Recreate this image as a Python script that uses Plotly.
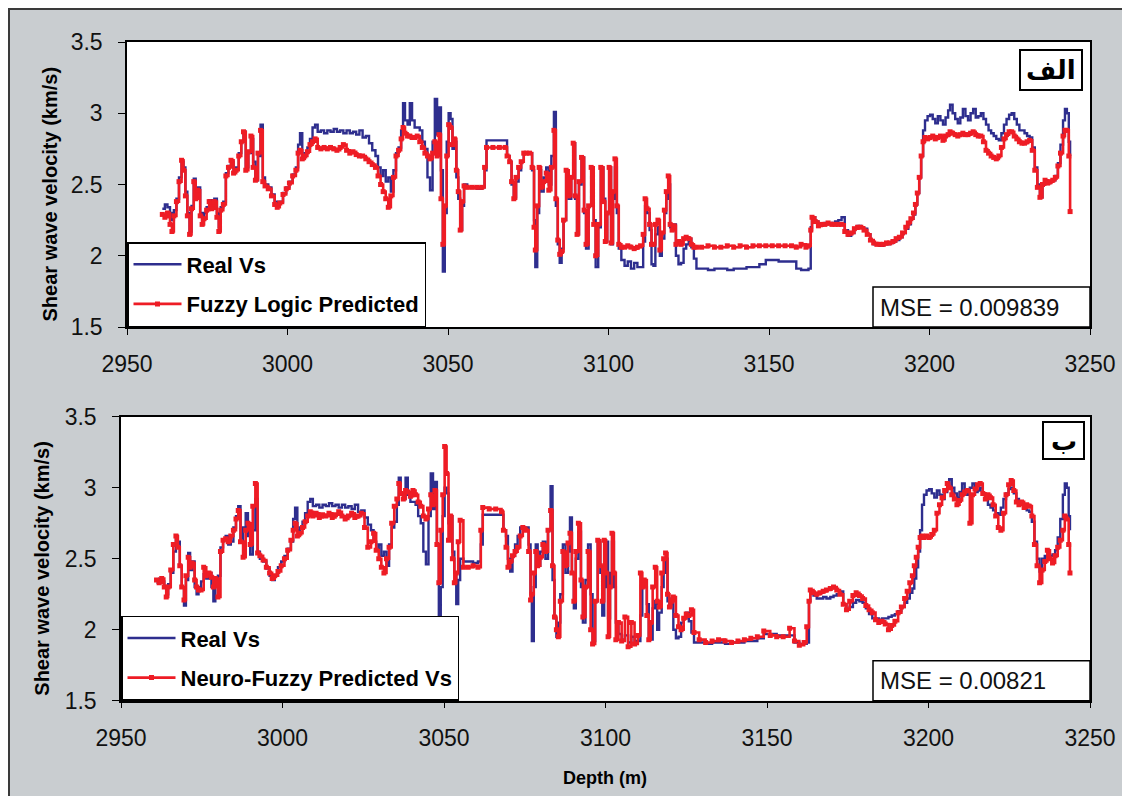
import plotly.graph_objects as go

# Depth samples (m) shared by all series
depth = [
    2961.0, 2961.8, 2962.6, 2963.4, 2964.0, 2964.6, 2965.4, 2966.2, 2967.0, 2967.6,
    2968.2, 2968.8, 2969.5, 2970.1, 2970.8, 2971.4, 2972.0, 2972.8, 2973.4, 2974.0,
    2974.8, 2975.6, 2976.4, 2977.2, 2978.0, 2978.6, 2979.2, 2980.0, 2980.8, 2981.6,
    2982.4, 2983.2, 2984.0, 2984.8, 2985.6, 2986.3, 2987.0, 2987.8, 2988.6, 2989.3,
    2990.0, 2990.8, 2991.6, 2992.3, 2993.0, 2994.0, 2995.0, 2996.0, 2996.8, 2997.6,
    2998.6, 2999.6, 3000.6, 3001.6, 3002.6, 3003.3, 3003.9, 3004.6, 3005.4, 3006.2,
    3007.0, 3007.8, 3008.6, 3009.4, 3010.4, 3011.4, 3012.4, 3013.4, 3014.4, 3015.4,
    3016.4, 3017.4, 3018.4, 3019.4, 3020.4, 3021.4, 3022.4, 3023.4, 3024.4, 3025.4,
    3026.4, 3027.4, 3028.2, 3029.0, 3029.8, 3030.6, 3031.4, 3032.2, 3033.0, 3033.8,
    3034.6, 3035.4, 3036.0, 3036.6, 3037.4, 3038.1, 3038.8, 3039.6, 3040.4, 3041.2,
    3042.0, 3042.8, 3043.6, 3044.4, 3045.2, 3045.9, 3046.6, 3047.2, 3047.8, 3048.4,
    3049.0, 3049.6, 3050.2, 3050.8, 3051.4, 3052.0, 3052.6, 3053.2, 3053.8, 3054.4,
    3055.0, 3056.0, 3057.5, 3059.0, 3060.5, 3061.4, 3062.0, 3064.0, 3066.0, 3067.8,
    3068.4, 3069.2, 3069.8, 3070.5, 3071.2, 3072.0, 3072.8, 3073.6, 3074.4, 3075.4,
    3076.2, 3076.8, 3077.2, 3077.8, 3078.4, 3079.0, 3079.8, 3080.6, 3081.4, 3082.2,
    3083.0, 3083.6, 3084.2, 3084.8, 3085.4, 3086.0, 3086.8, 3087.6, 3088.4, 3089.0,
    3089.6, 3090.2, 3090.8, 3091.6, 3092.4, 3093.0, 3093.8, 3094.6, 3095.4, 3096.0,
    3096.8, 3097.6, 3098.4, 3099.0, 3099.6, 3100.2, 3100.8, 3101.4, 3102.0, 3102.6,
    3103.2, 3104.0, 3105.0, 3106.0, 3107.0, 3108.0, 3109.0, 3110.0, 3110.8, 3111.4,
    3112.0, 3112.8, 3113.4, 3114.0, 3114.6, 3115.4, 3116.0, 3116.6, 3117.4, 3118.0,
    3118.6, 3119.2, 3119.8, 3120.4, 3121.0, 3121.8, 3122.6, 3123.4, 3124.2, 3125.0,
    3125.8, 3126.6, 3127.4, 3129.0, 3131.0, 3133.0, 3135.0, 3137.0, 3139.0, 3141.0,
    3143.0, 3145.0, 3147.0, 3149.0, 3151.0, 3153.0, 3155.0, 3157.0, 3158.5, 3160.0,
    3161.5, 3162.3, 3163.0, 3163.4, 3164.4, 3165.4, 3166.4, 3167.4, 3168.4, 3169.6,
    3170.6, 3171.6, 3172.6, 3173.6, 3174.6, 3175.6, 3176.6, 3177.6, 3178.6, 3179.6,
    3180.6, 3181.6, 3182.6, 3183.6, 3184.6, 3185.6, 3186.6, 3187.6, 3188.6, 3189.6,
    3190.6, 3191.6, 3192.6, 3193.4, 3194.2, 3195.0, 3195.6, 3196.2, 3196.8, 3197.4,
    3198.0, 3198.6, 3199.4, 3200.2, 3201.0, 3201.8, 3202.6, 3203.4, 3204.2, 3205.0,
    3205.8, 3206.4, 3207.2, 3208.0, 3208.8, 3209.6, 3210.4, 3211.2, 3212.0, 3212.8,
    3213.6, 3214.4, 3215.2, 3216.0, 3216.8, 3217.6, 3218.4, 3219.2, 3220.0, 3220.8,
    3221.6, 3222.4, 3223.2, 3224.0, 3224.8, 3225.6, 3226.4, 3227.2, 3228.0, 3228.8,
    3229.6, 3230.4, 3231.2, 3232.0, 3232.8, 3233.6, 3234.4, 3235.2, 3236.0, 3236.8,
    3237.6, 3238.4, 3239.2, 3240.0, 3240.8, 3241.6, 3242.2, 3242.8, 3243.4, 3243.8,
]

# Measured shear wave velocity (km/s)
real_vs = [
    2.33, 2.36, 2.34, 2.30, 2.25, 2.32, 2.40, 2.55, 2.66, 2.62,
    2.45, 2.30, 2.17, 2.35, 2.54, 2.42, 2.48, 2.30, 2.25, 2.30,
    2.34, 2.39, 2.36, 2.40, 2.30, 2.20, 2.34, 2.38, 2.58, 2.63,
    2.66, 2.60, 2.62, 2.72, 2.80, 2.87, 2.62, 2.72, 2.82, 2.66,
    2.53, 2.70, 2.92, 2.55, 2.50, 2.48, 2.43, 2.38, 2.35, 2.38,
    2.44, 2.48, 2.52, 2.57, 2.62, 2.78, 2.86, 2.70, 2.72, 2.76,
    2.82, 2.90, 2.92, 2.87, 2.88, 2.86, 2.88, 2.87, 2.89, 2.87,
    2.88, 2.86, 2.88, 2.86, 2.87, 2.85, 2.88, 2.83, 2.84, 2.79,
    2.74, 2.70, 2.62, 2.56, 2.60, 2.52, 2.55, 2.45, 2.60, 2.72,
    2.76, 2.88, 3.07, 2.95, 2.92, 3.07, 2.95, 2.90, 2.90, 2.88,
    2.80, 2.75, 2.55, 2.46, 2.80, 3.10, 2.85, 3.04, 2.60, 1.89,
    2.30, 2.80, 3.00, 2.96, 2.75, 2.80, 2.55, 2.40, 2.18, 2.35,
    2.50, 2.48, 2.48, 2.47, 2.48, 2.60, 2.81, 2.81, 2.81, 2.81,
    2.70, 2.66, 2.50, 2.41, 2.52, 2.60, 2.66, 2.72, 2.72, 2.72,
    2.60, 2.25, 1.92, 2.30, 2.60, 2.45, 2.55, 2.62, 2.50, 2.70,
    3.01, 2.35, 2.08, 1.95, 2.05, 2.25, 2.60, 2.40, 2.55, 2.79,
    2.40, 2.15, 2.50, 2.69, 2.30, 2.05, 2.35, 2.60, 2.25, 1.92,
    2.20, 2.62, 2.40, 2.10, 2.30, 2.62, 2.08, 2.40, 2.62, 2.30,
    2.05, 1.97, 1.93, 1.96, 1.91, 1.95, 1.92, 1.92, 2.10, 2.35,
    2.30, 2.18, 1.94, 1.93, 2.15, 2.20, 2.00, 2.12, 2.30, 2.40,
    2.50, 2.20, 2.18, 2.22, 2.00, 1.94, 1.95, 2.05, 2.08, 2.12,
    2.06, 1.98, 1.91, 1.91, 1.90, 1.91, 1.91, 1.90, 1.91, 1.91,
    1.92, 1.92, 1.94, 1.97, 1.97, 1.96, 1.96, 1.96, 1.91, 1.90,
    1.90, 1.91, 2.20, 2.27, 2.24, 2.22, 2.22, 2.23, 2.22, 2.23,
    2.24, 2.25, 2.27, 2.18, 2.14, 2.16, 2.19, 2.21, 2.20, 2.19,
    2.15, 2.11, 2.08, 2.08, 2.07, 2.08, 2.08, 2.09, 2.10, 2.11,
    2.13, 2.16, 2.19, 2.22, 2.26, 2.29, 2.36, 2.44, 2.55, 2.70,
    2.88, 2.95, 2.98, 2.99, 2.96, 2.93, 2.98, 2.95, 2.92, 2.97,
    3.02, 3.06, 3.00, 2.96, 2.93, 2.97, 3.03, 2.98, 2.95, 3.00,
    3.03, 2.97, 2.98, 3.00, 2.96, 2.92, 2.88, 2.86, 2.84, 2.82,
    2.81, 2.86, 2.92, 2.96, 2.99, 3.00, 2.96, 2.92, 2.88, 2.88,
    2.86, 2.84, 2.83, 2.76, 2.62, 2.50, 2.41, 2.50, 2.52, 2.51,
    2.52, 2.53, 2.56, 2.65, 2.78, 2.95, 3.03, 3.00, 2.80, 2.70,
]

# Fuzzy logic prediction (km/s)
fuzzy_vs = [
    2.29, 2.27, 2.30, 2.22, 2.17, 2.28, 2.38, 2.52, 2.67, 2.60,
    2.42, 2.28, 2.15, 2.33, 2.52, 2.40, 2.46, 2.28, 2.22, 2.26,
    2.32, 2.38, 2.33, 2.38, 2.27, 2.17, 2.32, 2.36, 2.56, 2.62,
    2.67, 2.58, 2.60, 2.70, 2.80, 2.87, 2.60, 2.73, 2.84, 2.62,
    2.53, 2.72, 2.88, 2.52, 2.49, 2.47, 2.42, 2.36, 2.34, 2.37,
    2.43, 2.47, 2.51, 2.56, 2.60, 2.72, 2.74, 2.68, 2.70, 2.73,
    2.78, 2.80, 2.82, 2.76, 2.75, 2.76, 2.75, 2.76, 2.75, 2.74,
    2.76, 2.78, 2.74, 2.72, 2.73, 2.71, 2.70, 2.70, 2.68, 2.66,
    2.64, 2.62, 2.56, 2.50, 2.45, 2.40, 2.34, 2.42, 2.55, 2.70,
    2.74, 2.82, 2.90, 2.86, 2.84, 2.84, 2.83, 2.83, 2.84, 2.80,
    2.76, 2.72, 2.70, 2.68, 2.72, 2.80, 2.70, 2.85, 2.40, 2.08,
    2.35, 2.70, 2.92, 2.90, 2.78, 2.82, 2.60, 2.45, 2.18, 2.38,
    2.49, 2.48, 2.48, 2.48, 2.48, 2.62, 2.76, 2.76, 2.76, 2.76,
    2.70, 2.66, 2.52, 2.40, 2.55, 2.62, 2.66, 2.72, 2.72, 2.72,
    2.62, 2.20, 2.04, 2.35, 2.62, 2.48, 2.52, 2.58, 2.46, 2.62,
    2.88, 2.40, 2.11, 2.01, 2.03, 2.25, 2.60, 2.42, 2.55, 2.79,
    2.42, 2.15, 2.52, 2.69, 2.32, 2.08, 2.35, 2.62, 2.22, 2.00,
    2.22, 2.62, 2.38, 2.10, 2.30, 2.62, 2.09, 2.45, 2.68, 2.35,
    2.08, 2.06, 2.06, 2.07, 2.06, 2.05, 2.06, 2.07, 2.15, 2.40,
    2.33, 2.22, 2.08, 2.08, 2.22, 2.25, 2.04, 2.16, 2.32, 2.45,
    2.56, 2.22, 2.18, 2.21, 2.08, 2.10, 2.08, 2.12, 2.13, 2.12,
    2.08, 2.06, 2.06, 2.06, 2.07, 2.06, 2.06, 2.07, 2.06, 2.07,
    2.06, 2.07, 2.07, 2.07, 2.07, 2.07, 2.07, 2.07, 2.06, 2.08,
    2.06, 2.07, 2.18, 2.27, 2.24, 2.21, 2.22, 2.22, 2.23, 2.22,
    2.22, 2.22, 2.22, 2.17, 2.15, 2.16, 2.19, 2.20, 2.20, 2.18,
    2.15, 2.11, 2.09, 2.08, 2.08, 2.08, 2.09, 2.09, 2.10, 2.12,
    2.13, 2.16, 2.20, 2.23, 2.26, 2.30, 2.36, 2.44, 2.55, 2.70,
    2.80, 2.83, 2.82, 2.83, 2.84, 2.82, 2.83, 2.84, 2.81, 2.84,
    2.85, 2.87, 2.86, 2.85, 2.84, 2.85, 2.86, 2.85, 2.85, 2.86,
    2.87, 2.85, 2.84, 2.84, 2.80, 2.74, 2.72, 2.70, 2.69, 2.68,
    2.70, 2.76, 2.82, 2.85, 2.87, 2.87, 2.84, 2.82, 2.80, 2.79,
    2.79, 2.80, 2.81, 2.74, 2.60, 2.48, 2.41, 2.50, 2.53, 2.51,
    2.52, 2.53, 2.55, 2.63, 2.72, 2.84, 2.88, 2.88, 2.70, 2.31,
]

# Neuro-fuzzy prediction (km/s)
neuro_vs = [
    2.35, 2.33, 2.36, 2.30, 2.23, 2.30, 2.42, 2.60, 2.66, 2.58,
    2.45, 2.30, 2.21, 2.38, 2.51, 2.44, 2.47, 2.35, 2.30, 2.28,
    2.28, 2.44, 2.38, 2.40, 2.37, 2.30, 2.36, 2.23, 2.55, 2.63,
    2.64, 2.62, 2.66, 2.70, 2.78, 2.84, 2.62, 2.51, 2.70, 2.75,
    2.60, 2.87, 3.03, 2.54, 2.52, 2.49, 2.44, 2.40, 2.36, 2.38,
    2.41, 2.45, 2.50, 2.56, 2.63, 2.70, 2.75, 2.66, 2.68, 2.72,
    2.76, 2.80, 2.83, 2.80, 2.82, 2.79, 2.81, 2.80, 2.82, 2.79,
    2.81, 2.83, 2.80, 2.78, 2.80, 2.82, 2.79, 2.80, 2.82, 2.72,
    2.58, 2.62, 2.68, 2.56, 2.50, 2.44, 2.40, 2.50, 2.58, 2.75,
    2.87, 2.92, 3.03, 2.96, 2.92, 2.98, 2.97, 2.94, 2.98, 2.95,
    2.90, 2.87, 2.80, 2.78, 2.85, 2.95, 2.88, 2.98, 2.60, 2.33,
    2.70, 2.95, 3.29, 3.10, 2.63, 2.80, 2.50, 2.33, 2.40, 2.62,
    2.77, 2.44, 2.44, 2.45, 2.44, 2.70, 2.86, 2.85, 2.85, 2.83,
    2.70, 2.58, 2.44, 2.48, 2.52, 2.55, 2.58, 2.66, 2.72, 2.70,
    2.55, 2.21, 2.25, 2.40, 2.55, 2.45, 2.51, 2.60, 2.55, 2.70,
    2.84, 2.45, 2.09, 2.00, 1.95, 2.20, 2.55, 2.45, 2.61, 2.68,
    2.40, 2.20, 2.55, 2.75, 2.35, 2.09, 2.30, 2.55, 2.00, 1.90,
    2.20, 2.63, 2.45, 2.20, 2.63, 2.40, 1.95, 2.30, 2.68, 2.40,
    1.93, 2.05, 1.92, 2.09, 1.88, 2.05, 1.90, 1.96, 2.40, 2.30,
    2.35, 2.10, 1.93, 2.05, 2.30, 2.44, 2.20, 2.16, 2.40, 2.50,
    2.54, 2.25, 2.16, 2.20, 2.23, 2.10, 2.02, 2.00, 2.08, 2.11,
    2.10, 2.14, 1.98, 1.93, 1.91, 1.92, 1.93, 1.92, 1.91, 1.92,
    1.93, 1.94, 1.95, 1.99, 1.96, 1.95, 1.95, 2.01, 1.92, 1.89,
    1.91, 2.02, 2.20, 2.28, 2.26, 2.25, 2.26, 2.27, 2.28, 2.29,
    2.30, 2.28, 2.25, 2.18, 2.14, 2.20, 2.24, 2.26, 2.24, 2.22,
    2.17, 2.14, 2.12, 2.07, 2.05, 2.06, 2.04, 2.00, 2.03, 2.06,
    2.12, 2.16, 2.22, 2.27, 2.33, 2.38, 2.45, 2.51, 2.58, 2.65,
    2.66, 2.65, 2.66, 2.65, 2.67, 2.70, 2.82, 2.88, 2.93, 2.98,
    3.03, 3.00, 2.95, 2.92, 2.88, 2.91, 2.95, 2.97, 2.98, 2.75,
    2.95, 2.99, 3.02, 3.03, 2.96, 2.92, 2.95, 2.93, 2.88, 2.80,
    2.72, 2.70, 2.82, 2.95, 3.02, 3.05, 2.98, 2.90, 2.88, 2.90,
    2.86, 2.88, 2.87, 2.80, 2.60, 2.45, 2.33, 2.42, 2.48, 2.56,
    2.50, 2.47, 2.52, 2.58, 2.63, 2.70, 2.80, 2.78, 2.60, 2.40,
]

assert len(depth) == len(real_vs) == len(fuzzy_vs) == len(neuro_vs)

x_ticks = [2950, 3000, 3050, 3100, 3150, 3200, 3250]
y_ticks = [1.5, 2, 2.5, 3, 3.5]
mse_labels = ["MSE = 0.009839", "MSE = 0.00821"]
panel_labels = ["الف", "ب"]
legend_names = [("Real Vs", "Fuzzy Logic Predicted"), ("Real Vs", "Neuro-Fuzzy Predicted Vs")]

W, H = 1122, 796
BLUE = "#2e2e8e"
RED = "#ee1c25"
FRAME = "#c9cdd0"
FONT = "Arial, Liberation Sans, sans-serif"


def fx(p):
    return p / W


def fy(p):
    return 1 - p / H


# panel geometry in pixels: (left, right, top, bottom)
panels = [(127, 1090, 42, 327), (121, 1090, 416.7, 700.7)]

fig = go.Figure()

preds = [fuzzy_vs, neuro_vs]
for i, (l, r, t, b) in enumerate(panels):
    sfx = "" if i == 0 else str(i + 1)
    leg = "legend" if i == 0 else "legend2"
    fig.add_trace(go.Scatter(
        x=depth, y=real_vs, mode="lines", name=legend_names[i][0],
        line=dict(color=BLUE, width=2.4, shape="hv"),
        xaxis="x" + sfx, yaxis="y" + sfx, legend=leg, legendgroup=f"r{i}",
    ))
    fig.add_trace(go.Scatter(
        x=depth, y=preds[i], mode="lines+markers", name=legend_names[i][1],
        line=dict(color=RED, width=2.6, shape="hv"),
        marker=dict(color=RED, size=5, symbol="square"),
        xaxis="x" + sfx, yaxis="y" + sfx, legend=leg, legendgroup=f"p{i}",
    ))

shapes = [dict(type="rect", xref="paper", yref="paper", layer="below",
               x0=fx(9), x1=1.05, y0=-0.05, y1=fy(9),
               fillcolor=FRAME, line=dict(color="#3a3a3a", width=2))]
annotations = []
axis_common = dict(
    showline=True, linecolor="black", linewidth=1.5, mirror=True,
    showgrid=False, zeroline=False, ticks="outside", tickcolor="black",
    tickfont=dict(family=FONT, size=23, color="#111"),
)
layout_axes = {}
for i, (l, r, t, b) in enumerate(panels):
    sfx = "" if i == 0 else str(i + 1)
    shapes.append(dict(type="rect", xref="paper", yref="paper", layer="below",
                       x0=fx(l), x1=fx(r), y0=fy(b), y1=fy(t),
                       fillcolor="white", line=dict(width=0)))
    layout_axes["xaxis" + sfx] = dict(
        axis_common, domain=[fx(l), fx(r)], range=[2950, 3250],
        tickvals=x_ticks, ticklen=6, ticklabelstandoff=10,
        anchor="y" + sfx,
    )
    layout_axes["yaxis" + sfx] = dict(
        axis_common, domain=[fy(b), fy(t)], range=[1.5, 3.5],
        tickvals=y_ticks, ticklen=7, ticklabelstandoff=11,
        anchor="x" + sfx,
    )
    # MSE box
    shapes.append(dict(type="rect", xref="paper", yref="paper",
                       x0=fx(873), x1=fx(r), y0=fy(b), y1=fy(b - 40),
                       fillcolor="white", line=dict(color="black", width=1.5)))
    annotations.append(dict(xref="paper", yref="paper", x=fx(878), y=fy(b - 20),
                            xanchor="left", yanchor="middle", showarrow=False,
                            text=mse_labels[i],
                            font=dict(family=FONT, size=24, color="#111")))
    # y-axis title
    annotations.append(dict(xref="paper", yref="paper",
                            x=fx(49 if i == 0 else 42), y=fy((t + b) / 2 + 10),
                            xanchor="center", yanchor="middle", showarrow=False,
                            textangle=-90, text="Shear wave velocity (km/s)",
                            font=dict(family=FONT, size=20, color="black", weight="bold")))

# panel tags
tag_boxes = [(1020, 1082, 50, 90), (1043, 1084, 422, 459)]
for (x0, x1, y0, y1), txt in zip(tag_boxes, panel_labels):
    shapes.append(dict(type="rect", xref="paper", yref="paper",
                       x0=fx(x0), x1=fx(x1), y0=fy(y1), y1=fy(y0),
                       fillcolor="white", line=dict(color="black", width=2)))
    annotations.append(dict(xref="paper", yref="paper", x=fx((x0 + x1) / 2),
                            y=fy((y0 + y1) / 2), xanchor="center", yanchor="middle",
                            showarrow=False, text=txt,
                            font=dict(family="DejaVu Sans", size=26, color="black",
                                      weight="bold")))

annotations.append(dict(xref="paper", yref="paper", x=fx(605), y=fy(778),
                        xanchor="center", yanchor="middle", showarrow=False,
                        text="Depth (m)",
                        font=dict(family=FONT, size=18, color="black", weight="bold")))

legend_style = dict(
    bgcolor="white", bordercolor="black", borderwidth=1.5,
    font=dict(family=FONT, size=22, color="black", weight="bold"),
    xanchor="left", yanchor="bottom", tracegroupgap=8, itemwidth=48,
)

fig.update_layout(
    width=W, height=H,
    margin=dict(l=0, r=0, t=0, b=0, autoexpand=False),
    paper_bgcolor="white", plot_bgcolor="rgba(0,0,0,0)",
    showlegend=True,
    legend=dict(legend_style, x=fx(127), y=fy(327)),
    legend2=dict(legend_style, x=fx(121), y=fy(700.7)),
    shapes=shapes, annotations=annotations,
    **layout_axes,
)

fig.write_html("out.html")
